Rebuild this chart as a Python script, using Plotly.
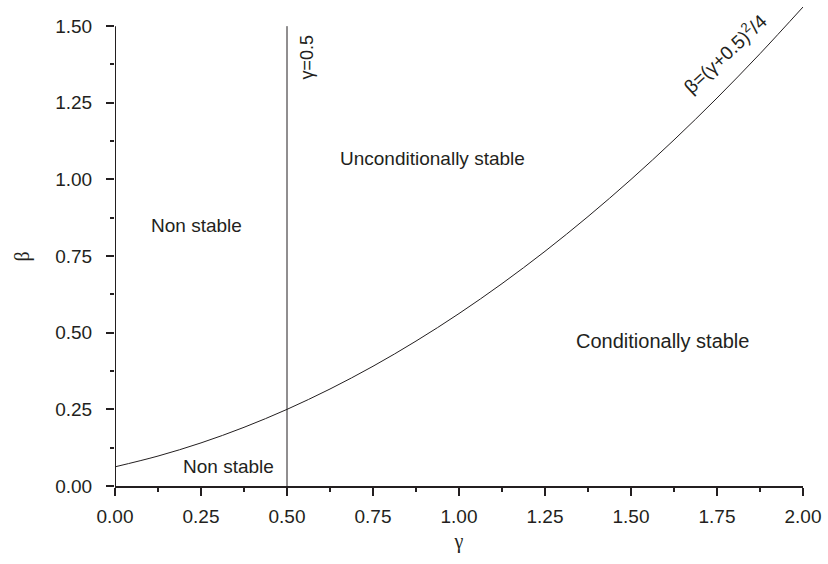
import plotly.graph_objects as go

# curve beta = (gamma+0.5)^2/4
gamma_pts = [0.0, 0.125, 0.25, 0.375, 0.5, 0.625, 0.75, 0.875, 1.0, 1.125,
             1.25, 1.375, 1.5, 1.625, 1.75, 1.875, 2.0]
beta_pts = [0.0625, 0.0977, 0.1406, 0.1914, 0.25, 0.3164, 0.3906, 0.4727, 0.5625,
            0.6602, 0.7656, 0.8789, 1.0, 1.1289, 1.2656, 1.4102, 1.5625]

vline_gamma = [0.5, 0.5]
vline_beta = [0.0, 1.5]

x_ticks = [0.0, 0.25, 0.5, 0.75, 1.0, 1.25, 1.5, 1.75, 2.0]
x_ticklabels = ["0.00", "0.25", "0.50", "0.75", "1.00", "1.25", "1.50", "1.75", "2.00"]
y_ticks = [0.0, 0.25, 0.5, 0.75, 1.0, 1.25, 1.5]
y_ticklabels = ["0.00", "0.25", "0.50", "0.75", "1.00", "1.25", "1.50"]

region_labels = ["Non stable", "Unconditionally stable", "Conditionally stable", "Non stable"]
region_x = [0.237, 0.924, 1.592, 0.330]
region_y = [0.851, 1.069, 0.473, 0.062]
region_size = [19, 19, 20, 19]

ink = "#231f20"
font_family = "Liberation Sans, Arial, sans-serif"

fig = go.Figure()
fig.add_trace(go.Scatter(x=gamma_pts, y=beta_pts, mode="lines", line_shape="spline",
                         line=dict(color=ink, width=1), showlegend=False, hoverinfo="skip"))
fig.add_trace(go.Scatter(x=vline_gamma, y=vline_beta, mode="lines",
                         line=dict(color=ink, width=1), showlegend=False, hoverinfo="skip"))

for t, x, y, s in zip(region_labels, region_x, region_y, region_size):
    fig.add_annotation(x=x, y=y, text=t, showarrow=False,
                       font=dict(size=s, color=ink, family=font_family))

fig.add_annotation(x=0.559, y=1.399, text="γ=0.5", textangle=-90, showarrow=False,
                   font=dict(size=18, color=ink, family=font_family))
fig.add_annotation(x=1.772, y=1.412, text="β=(γ+0.5)<sup>2</sup>/4", textangle=-43,
                   showarrow=False, font=dict(size=19, color=ink, family=font_family))

# y axis title placed as annotation (left of the tick labels)
fig.add_annotation(xref="paper", yref="y", x=-0.1346, y=0.75, text="β", textangle=-90,
                   xanchor="center", yanchor="middle", showarrow=False,
                   font=dict(size=20, color=ink, family="Liberation Serif, serif"))

# left axis line limited to 0..1.5
fig.add_shape(type="line", xref="x", yref="y", x0=0, x1=0, y0=0, y1=1.5,
              line=dict(color=ink, width=2))

fig.update_layout(
    width=828, height=564,
    margin=dict(l=115, r=21, t=7, b=78),
    paper_bgcolor="white", plot_bgcolor="white",
    font=dict(family=font_family, size=19, color=ink),
)
fig.update_xaxes(range=[0, 2], showgrid=False, zeroline=False, showline=True,
                 linecolor=ink, linewidth=2, ticks="outside", ticklen=8, tickwidth=1.5,
                 tickcolor=ink, tickvals=x_ticks, ticktext=x_ticklabels,
                 tickfont=dict(size=19), ticklabelstandoff=4,
                 minor=dict(ticks="outside", ticklen=4, tickwidth=1.5, tickcolor=ink,
                            tick0=0.125, dtick=0.25, showgrid=False),
                 title=dict(text="γ", font=dict(size=20, family="Liberation Serif, serif"),
                            standoff=8))
fig.update_yaxes(range=[0, 1.5625], showgrid=False, zeroline=False, showline=False,
                 ticks="outside", ticklen=8, tickwidth=1.5, tickcolor=ink,
                 tickvals=y_ticks, ticktext=y_ticklabels, tickfont=dict(size=19),
                 ticklabelstandoff=10,
                 minor=dict(ticks="outside", ticklen=4, tickwidth=1.5, tickcolor=ink,
                            tick0=0.125, dtick=0.25, showgrid=False))

fig.write_html("out.html")
